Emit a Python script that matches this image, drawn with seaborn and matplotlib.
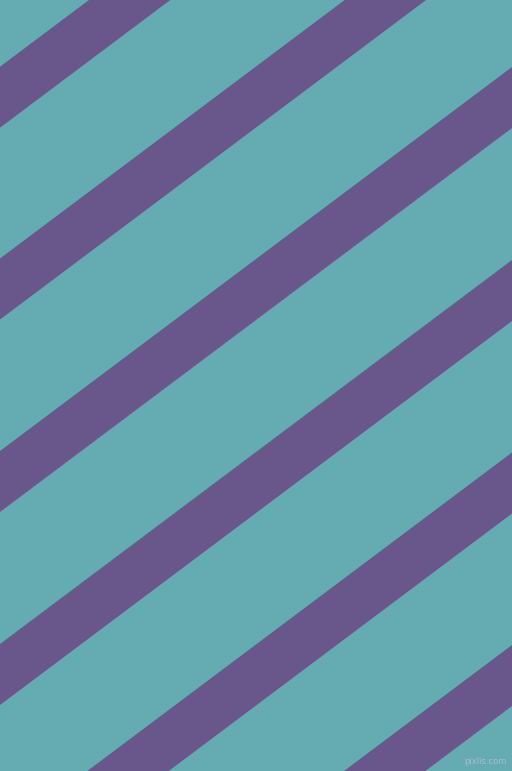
import numpy as np
import matplotlib
matplotlib.use("Agg")
import matplotlib.pyplot as plt
import seaborn as sns

# stripe data (pixel space, y measured from top)
stripe_tops = [66.7, 258.5, 451.0, 644.0, 836.5, 1029.0]  # top edge at x=0
stripe_width = 61.0        # vertical thickness
slope = 0.75               # edges rise 0.75 px per px to the right
bg_color = "#64ABB2"
stripe_color = "#69578B"
W, H = 512, 771

sns.set_style("white")

fig = plt.figure(figsize=(W / 100, H / 100), dpi=100)
ax = fig.add_axes([0, 0, 1, 1])
ax.set_facecolor(bg_color)

x = np.array([0, W])
for b in stripe_tops:
    ax.fill_between(x, b - slope * x, b + stripe_width - slope * x,
                    color=stripe_color, linewidth=0)

ax.text(507, 761, "pixlis.com", fontsize=6, color="#a9bfcc",
        ha="right", va="center")

ax.set_xlim(0, W)
ax.set_ylim(H, 0)
ax.axis("off")
fig.patch.set_facecolor(bg_color)
fig.savefig("out.png", dpi=100, facecolor=bg_color)
